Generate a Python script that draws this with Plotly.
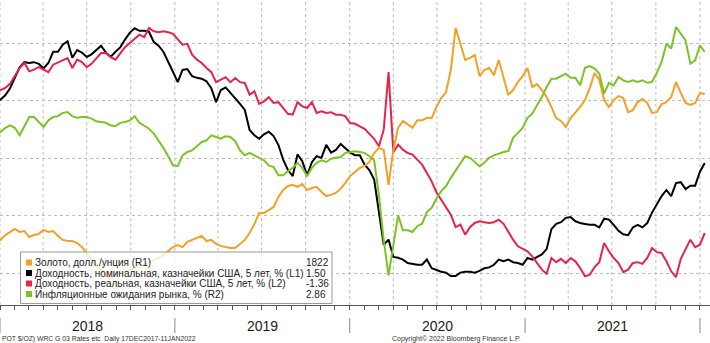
import plotly.graph_objects as go
import pandas as pd

# 10-day sampling, 23 Dec 2017 .. 11 Jan 2022
dates = pd.date_range("2017-12-23", periods=149, freq="10D")

gold = [1306, 1313, 1330, 1341, 1351, 1341, 1344, 1323, 1330, 1334,
        1348, 1341, 1344, 1327, 1313, 1309, 1309, 1302, 1288, 1267,
        1243, 1222, 1208, 1187, 1177, 1187, 1201, 1201, 1208, 1215,
        1232, 1225, 1236, 1243, 1250, 1260, 1274, 1288, 1295, 1288,
        1306, 1313, 1320, 1327, 1309, 1313, 1299, 1292, 1288, 1285,
        1285, 1299, 1313, 1337, 1368, 1407, 1407, 1417, 1428, 1463,
        1487, 1501, 1505, 1498, 1508, 1487, 1494, 1498, 1480, 1466,
        1470, 1477, 1491, 1512, 1536, 1550, 1564, 1571, 1585, 1616,
        1634, 1627, 1505, 1627, 1704, 1728, 1717, 1704, 1731, 1731,
        1738, 1738, 1777, 1808, 1829, 1906, 2053, 1993, 1941, 1948,
        1958, 1885, 1906, 1913, 1888, 1941, 1878, 1819, 1836, 1864,
        1885, 1913, 1847, 1857, 1836, 1812, 1777, 1738, 1728, 1707,
        1738, 1756, 1777, 1801, 1843, 1895, 1871, 1801, 1777, 1801,
        1815, 1808, 1759, 1766, 1794, 1805, 1791, 1756, 1759, 1787,
        1794, 1812, 1864, 1826, 1791, 1784, 1791, 1826, 1822]

nominal_5y = [2.18, 2.23, 2.28, 2.36, 2.48, 2.60, 2.66, 2.65, 2.66, 2.64,
              2.59, 2.65, 2.78, 2.78, 2.86, 2.90, 2.71, 2.80, 2.77, 2.72,
              2.75, 2.80, 2.85, 2.77, 2.72, 2.78, 2.83, 2.92, 3.00, 3.05,
              3.02, 3.02, 3.01, 2.89, 2.85, 2.78, 2.67, 2.55, 2.43, 2.57,
              2.58, 2.50, 2.48, 2.47, 2.44, 2.36, 2.20, 2.34, 2.37, 2.31,
              2.25, 2.18, 2.11, 1.88, 1.82, 1.78, 1.83, 1.86, 1.81, 1.71,
              1.54, 1.42, 1.35, 1.60, 1.52, 1.36, 1.51, 1.58, 1.56, 1.71,
              1.62, 1.65, 1.72, 1.67, 1.62, 1.59, 1.59, 1.48, 1.42, 1.31,
              0.96, 0.56, 0.62, 0.42, 0.41, 0.39, 0.35, 0.34, 0.33, 0.33,
              0.39, 0.29, 0.27, 0.25, 0.24, 0.20, 0.20, 0.24, 0.25, 0.25,
              0.24, 0.26, 0.29, 0.30, 0.33, 0.39, 0.37, 0.39, 0.36, 0.35,
              0.33, 0.41, 0.39, 0.42, 0.45, 0.51, 0.74, 0.80, 0.82, 0.87,
              0.88, 0.83, 0.81, 0.80, 0.79, 0.79, 0.76, 0.86, 0.85, 0.79,
              0.72, 0.68, 0.67, 0.76, 0.79, 0.76, 0.81, 0.93, 1.02, 1.12,
              1.19, 1.12, 1.27, 1.28, 1.20, 1.24, 1.24, 1.40, 1.50]

real_5y = [0.33, 0.36, 0.38, 0.43, 0.52, 0.62, 0.68, 0.58, 0.60, 0.63,
           0.60, 0.57, 0.66, 0.69, 0.72, 0.74, 0.62, 0.72, 0.69, 0.63,
           0.67, 0.74, 0.80, 0.80, 0.75, 0.72, 0.80, 0.87, 0.92, 0.97,
           1.02, 0.99, 1.10, 1.06, 1.05, 1.06, 1.05, 1.03, 0.96, 0.90,
           0.91, 0.78, 0.72, 0.68, 0.62, 0.57, 0.45, 0.48, 0.51, 0.45,
           0.50, 0.45, 0.44, 0.30, 0.34, 0.19, 0.22, 0.27, 0.20, 0.21,
           0.14, 0.07, 0.06, 0.21, 0.16, 0.14, 0.21, 0.08, 0.10, 0.08,
           0.09, 0.06, 0.06, 0.04, -0.04, -0.05, -0.08, -0.11, -0.17, -0.23,
           -0.32, -0.12, 0.57, -0.39, -0.30, -0.36, -0.40, -0.42, -0.48, -0.54,
           -0.64, -0.74, -0.87, -0.96, -1.06, -1.14, -1.29, -1.26, -1.38, -1.29,
           -1.24, -1.22, -1.23, -1.24, -1.23, -1.20, -1.25, -1.35, -1.44, -1.52,
           -1.55, -1.58, -1.64, -1.72, -1.80, -1.85, -1.66, -1.71, -1.67, -1.72,
           -1.66, -1.70, -1.78, -1.88, -1.86, -1.77, -1.71, -1.48, -1.58, -1.66,
           -1.72, -1.83, -1.80, -1.72, -1.71, -1.73, -1.66, -1.54, -1.59, -1.60,
           -1.70, -1.82, -1.89, -1.67, -1.55, -1.44, -1.53, -1.50, -1.36]

breakeven_5y = [1.88, 1.90, 1.95, 1.98, 1.95, 1.86, 1.97, 2.08, 2.08, 2.02,
                1.96, 2.04, 2.08, 2.09, 2.13, 2.14, 2.09, 2.07, 2.08, 2.08,
                2.06, 2.03, 2.02, 2.01, 1.98, 1.97, 2.01, 2.02, 2.04, 2.09,
                2.01, 1.97, 1.94, 1.88, 1.80, 1.71, 1.61, 1.50, 1.49, 1.62,
                1.66, 1.68, 1.73, 1.78, 1.80, 1.86, 1.84, 1.82, 1.85, 1.84,
                1.79, 1.68, 1.62, 1.65, 1.62, 1.59, 1.56, 1.50, 1.48, 1.38,
                1.38, 1.43, 1.47, 1.53, 1.47, 1.37, 1.47, 1.53, 1.56, 1.54,
                1.58, 1.59, 1.60, 1.65, 1.66, 1.67, 1.66, 1.65, 1.61, 1.56,
                1.14, 0.60, 0.18, 0.54, 0.90, 0.72, 0.72, 0.70, 0.77, 0.80,
                0.94, 0.99, 1.10, 1.19, 1.25, 1.35, 1.44, 1.52, 1.61, 1.59,
                1.54, 1.49, 1.53, 1.59, 1.62, 1.64, 1.66, 1.67, 1.83, 1.89,
                1.95, 2.07, 2.12, 2.22, 2.32, 2.44, 2.54, 2.54, 2.57, 2.60,
                2.55, 2.55, 2.46, 2.67, 2.69, 2.66, 2.60, 2.36, 2.49, 2.46,
                2.56, 2.52, 2.50, 2.52, 2.50, 2.52, 2.49, 2.50, 2.61, 2.74,
                2.96, 2.90, 3.16, 3.08, 3.00, 2.72, 2.76, 2.94, 2.86]

series_names = ["Золото, долл./унция (R1)",
                "Доходность, номинальная, казначейки США, 5 лет, % (L1)",
                "Доходность, реальная, казначейки США, 5 лет, % (L2)",
                "Инфляционные ожидания рынка, % (R2)"]
last_values = ["1822", "1.50", "-1.36", "2.86"]
year_labels = ["2018", "2019", "2020", "2021"]
footer_left = "POT $/OZ) WRC G 03 Rates etc  Daily 17DEC2017-11JAN2022"
footer_right = "Copyright© 2022 Bloomberg Finance L.P."

colors = ["#F4A027", "#000000", "#E3244B", "#7CC425"]
series = [gold, nominal_5y, real_5y, breakeven_5y]
axes = ["y3", "y", "y2", "y4"]

FONT = "Liberation Sans, Arial, sans-serif"
W, H_PLOT = 710, 305

fig = go.Figure()
for vals, col, ax, name in zip(series, colors, axes, series_names):
    fig.add_trace(go.Scatter(x=dates, y=vals, yaxis=ax, mode="lines", name=name,
                             line=dict(color=col, width=2), showlegend=False))

shapes = []
# quarterly dotted vertical gridlines
for d in pd.date_range("2018-01-01", "2022-01-01", freq="QS"):
    shapes.append(dict(type="line", xref="x", yref="paper", x0=d, x1=d, y0=0, y1=1,
                       line=dict(color="#bdbdbd", width=1, dash="dot"), layer="below"))
# year separators in label band
for y in year_labels + ["2022"]:
    shapes.append(dict(type="line", xref="x", yref="paper", x0=f"{y}-01-01", x1=f"{y}-01-01",
                       y0=(H_PLOT - 318) / H_PLOT, y1=(H_PLOT - 333) / H_PLOT,
                       line=dict(color="#8a8a8a", width=1)))


def px(x):
    return x / W


def py(y):
    return (H_PLOT - y) / H_PLOT


# legend box
shapes.append(dict(type="rect", xref="paper", yref="paper", x0=px(20.5), x1=px(332),
                   y0=py(303.5), y1=py(252), line=dict(color="#9a9a9a", width=1),
                   fillcolor="rgba(255,255,255,0.78)", layer="above"))
row_y = [262.5, 273, 283.5, 294]
annotations = []
for name, val, col, ry in zip(series_names, last_values, colors, row_y):
    shapes.append(dict(type="rect", xref="paper", yref="paper", x0=px(26), x1=px(32),
                       y0=py(ry + 3), y1=py(ry - 3), line=dict(width=0), fillcolor=col,
                       layer="above"))
    annotations.append(dict(xref="paper", yref="paper", x=px(32.5), y=py(ry), text=name,
                            showarrow=False, xanchor="left", yanchor="middle",
                            font=dict(family=FONT, size=10, color="#222")))
    annotations.append(dict(xref="paper", yref="paper", x=px(304), y=py(ry), text=val,
                            showarrow=False, xanchor="left", yanchor="middle",
                            font=dict(family=FONT, size=10, color="#222")))

for y in year_labels:
    annotations.append(dict(xref="x", yref="paper", x=f"{y}-07-02", y=py(325.5), text=y,
                            showarrow=False, xanchor="center", yanchor="middle",
                            font=dict(family=FONT, size=14, color="#1a1a1a")))

annotations.append(dict(xref="paper", yref="paper", x=0, y=py(338.5), text=footer_left,
                        showarrow=False, xanchor="left", yanchor="middle",
                        font=dict(family=FONT, size=6.8, color="#333")))
annotations.append(dict(xref="paper", yref="paper", x=px(390), y=py(338.5), text=footer_right,
                        showarrow=False, xanchor="left", yanchor="middle",
                        font=dict(family=FONT, size=7, color="#333")))

fig.update_layout(
    width=710, height=343,
    margin=dict(l=0, r=0, t=0, b=38),
    paper_bgcolor="white", plot_bgcolor="white",
    showlegend=False,
    font=dict(family=FONT, color="#222"),
    xaxis=dict(type="date", range=["2018-01-01", "2022-01-22"], dtick="M1",
               tick0="2018-01-01", ticks="outside", ticklen=4, tickcolor="#555",
               showticklabels=False, showgrid=False, showline=True,
               linecolor="#555", linewidth=1, zeroline=False),
    yaxis=dict(range=[-0.1325, 3.375], tickmode="linear", tick0=2.8805, dtick=0.66125,
               showgrid=True, gridcolor="#bdbdbd", griddash="dot", gridwidth=1,
               showticklabels=False, zeroline=False, ticks="", showline=False),
    yaxis2=dict(range=[-2.224, 1.436], overlaying="y", visible=False),
    yaxis3=dict(range=[1085.8, 2150.25], overlaying="y", visible=False),
    yaxis4=dict(range=[-0.176, 3.484], overlaying="y", visible=False),
    shapes=shapes,
    annotations=annotations,
)

fig.write_html("out.html")
